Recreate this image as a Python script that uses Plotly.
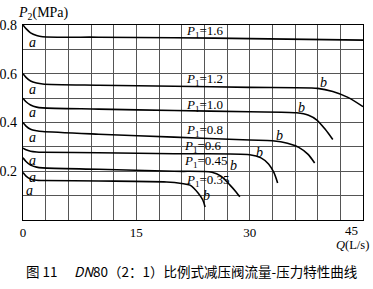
import plotly.graph_objects as go

# ---- data ----
Q_16 = [0, 0.4, 1.0, 1.8, 2.6, 10, 20, 30, 45]
P_16 = [0.80, 0.785, 0.768, 0.757, 0.752, 0.750, 0.748, 0.744, 0.738]

Q_12 = [0, 0.4, 1.0, 1.8, 2.6, 10, 20, 30, 39, 41, 43, 45]
P_12 = [0.60, 0.585, 0.570, 0.562, 0.558, 0.553, 0.549, 0.544, 0.540, 0.527, 0.503, 0.465]

Q_10 = [0, 0.4, 1.0, 1.8, 2.6, 10, 20, 30, 36.2, 37.8, 38.9, 40, 41]
P_10 = [0.50, 0.485, 0.472, 0.463, 0.460, 0.455, 0.449, 0.444, 0.440, 0.430, 0.410, 0.372, 0.330]

Q_08 = [0, 0.4, 1.0, 1.8, 2.6, 10, 20, 30, 33, 35, 36.5, 37.7, 38.6]
P_08 = [0.40, 0.385, 0.372, 0.366, 0.363, 0.352, 0.340, 0.328, 0.325, 0.315, 0.298, 0.270, 0.234]

Q_06 = [0, 0.4, 1.0, 1.8, 2.6, 10, 20, 30, 31.5, 32.5, 33.2, 33.7]
P_06 = [0.295, 0.288, 0.282, 0.279, 0.278, 0.276, 0.272, 0.268, 0.255, 0.230, 0.195, 0.152]

Q_045 = [0, 0.4, 1.0, 1.8, 2.6, 10, 20, 25, 26.2, 27.4, 28.2, 28.7]
P_045 = [0.255, 0.240, 0.225, 0.217, 0.214, 0.208, 0.200, 0.196, 0.180, 0.143, 0.115, 0.095]

Q_035 = [0, 0.4, 1.0, 1.8, 2.6, 10, 19, 21, 22.1, 23.2, 23.8, 24.1]
P_035 = [0.195, 0.180, 0.168, 0.163, 0.162, 0.160, 0.156, 0.150, 0.143, 0.110, 0.082, 0.053]

curves = [(Q_16, P_16), (Q_12, P_12), (Q_10, P_10), (Q_08, P_08),
          (Q_06, P_06), (Q_045, P_045), (Q_035, P_035)]

P1_labels = ["1.6", "1.2", "1.0", "0.8", "0.6", "0.45", "0.35"]
P1_label_y = [0.775, 0.578, 0.471, 0.369, 0.300, 0.238, 0.164]
P1_label_x = [21.3, 21.3, 21.3, 21.3, 21.0, 21.0, 21.3]

a_x = [1.3, 1.2, 1.3, 1.3, 1.2, 1.2, 0.9]
a_y = [0.730, 0.537, 0.440, 0.340, 0.246, 0.176, 0.123]

b_x = [39.8, 36.9, 34.0, 31.3, 27.9, 24.3]
b_y = [0.566, 0.463, 0.348, 0.275, 0.225, 0.102]

x_tickvals = [0, 15, 30]
x_ticktext = ["0", "15", "30"]
x_last_label = "45"
y_tickvals = [0.2, 0.4, 0.6, 0.8]
y_ticktext = ["0.2", "0.4", "0.6", "0.8"]

SERIF = "Liberation Serif"
GRID = "#555"

fig = go.Figure()
for qx, py in curves:
    fig.add_trace(go.Scatter(x=qx, y=py, mode="lines",
                             line=dict(color="black", width=1.6, shape="spline", smoothing=0.8),
                             showlegend=False, hoverinfo="skip"))

ann = []
for lab, lx, ly in zip(P1_labels, P1_label_x, P1_label_y):
    ann.append(dict(x=lx, y=ly, xref="x", yref="y", xanchor="left", yanchor="middle",
                    text=f"<i>P</i><sub>1</sub>={lab}", showarrow=False,
                    font=dict(family=SERIF, size=13, color="black")))
for ax_, ay_ in zip(a_x, a_y):
    ann.append(dict(x=ax_, y=ay_, xref="x", yref="y", xanchor="center", yanchor="middle",
                    text="<i>a</i>", showarrow=False,
                    font=dict(family=SERIF, size=14, color="black")))
for bx_, by_ in zip(b_x, b_y):
    ann.append(dict(x=bx_, y=by_, xref="x", yref="y", xanchor="center", yanchor="middle",
                    text="<i>b</i>", showarrow=False,
                    font=dict(family=SERIF, size=14, color="black")))

ann.append(dict(x=45, y=0, xref="x", yref="paper", xanchor="center", yanchor="middle",
                xshift=-12, yshift=-10, text=x_last_label, showarrow=False,
                font=dict(family=SERIF, size=13, color="black")))
ann.append(dict(x=1, y=0, xref="paper", yref="paper", xanchor="right", yanchor="middle",
                xshift=8, yshift=-24.5, text="<i>Q</i>(L/s)", showarrow=False,
                font=dict(family=SERIF, size=12.5, color="black")))
ann.append(dict(x=0, y=1, xref="paper", yref="paper", xanchor="left", yanchor="middle",
                xshift=-7, yshift=12, text="<i>P</i><sub>2</sub>(MPa)", showarrow=False,
                font=dict(family=SERIF, size=14, color="black")))
ann.append(dict(x=0.5, y=0, xref="paper", yref="paper", xanchor="center", yanchor="middle",
                xshift=-2, yshift=-51,
                text="图 11\u2003 <i>DN</i>80（2：1）比例式减压阀流量-压力特性曲线", showarrow=False,
                font=dict(family="Noto Sans CJK SC", size=13.5, color="black")))

fig.update_layout(
    width=373, height=289,
    margin=dict(l=23, r=10, t=25, b=69, autoexpand=False),
    paper_bgcolor="white", plot_bgcolor="white",
    annotations=ann,
    xaxis=dict(range=[0, 45], tickmode="array", tickvals=x_tickvals, ticktext=x_ticktext,
               showgrid=True, gridcolor=GRID, gridwidth=1, zeroline=False,
               minor=dict(dtick=3, tick0=0, showgrid=True, gridcolor=GRID, gridwidth=1, ticks=""),
               showline=True, linecolor="black", linewidth=1.2, mirror=True,
               ticks="", automargin=False,
               tickfont=dict(family=SERIF, size=13, color="black")),
    yaxis=dict(range=[0, 0.8], tickmode="array", tickvals=y_tickvals, ticktext=y_ticktext,
               showgrid=True, gridcolor=GRID, gridwidth=1, zeroline=False,
               minor=dict(dtick=0.1, tick0=0, showgrid=True, gridcolor=GRID, gridwidth=1, ticks=""),
               showline=True, linecolor="black", linewidth=1.2, mirror=True,
               ticks="", ticklabelstandoff=2, automargin=False,
               tickfont=dict(family=SERIF, size=14, color="black")),
)

fig.write_html("out.html")
